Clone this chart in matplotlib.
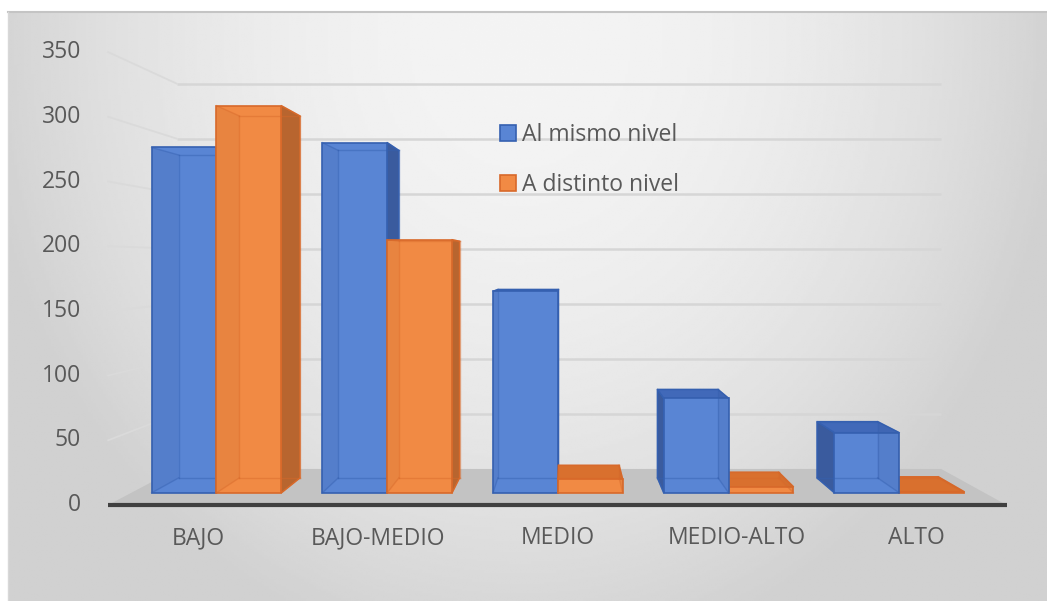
import numpy as np
import matplotlib
matplotlib.use("Agg")
import matplotlib.pyplot as plt
from matplotlib.patches import Polygon, Patch

# ---------------- data ----------------
categories = ["BAJO", "BAJO-MEDIO", "MEDIO", "MEDIO-ALTO", "ALTO"]
al_mismo_nivel = [281, 285, 164, 77, 49]
a_distinto_nivel = [315, 206, 11, 5, 1]
series_labels = ["Al mismo nivel", "A distinto nivel"]
y_ticks = [0, 50, 100, 150, 200, 250, 300, 350]

# ---------------- style ----------------
plt.rcParams["font.family"] = ["Open Sans", "DejaVu Sans"]
TEXT_COLOR = "#595959"
FS = 16.5

BLUE = dict(front="#5985d4", edge="#3560b0", side="#3a5b9e", top="#4169b9")
ORANGE = dict(front="#f18a44", edge="#d8692a", side="#b8652f", top="#d9702e")

W, H = 1047, 601
fig = plt.figure(figsize=(W / 100, H / 100), dpi=100)
fig.patch.set_facecolor("white")
ax = fig.add_axes([0, 0, 1, 1])
ax.set_axis_off()

# front-plane layout (pixel anchors for the axis frame)
X0_PX, CAT_PX = 198.0, 179.7
Y0_PX, VAL_PX = 505.0, 1.294


def px2x(px):
    return (px - X0_PX) / CAT_PX


def py2v(py):
    return (Y0_PX - py) / VAL_PX


# perspective: vanishing point and depth scales
VX, VV = px2x(567), py2v(263)
S_FLOOR_FRONT, S_FLOOR_BACK = 1.0, 0.851
S_BAR_FRONT, S_BAR_BACK = 0.950, 0.888
BAR_W = 0.38


def proj(x, v, s):
    return (VX + (x - VX) * s, VV + (v - VV) * s)


# ---------------- background ----------------
gx0, gx1, gy0, gy1 = 8, W, 12, H
xs = np.linspace(gx0, gx1, 420)
ys = np.linspace(gy0, gy1, 260)
XX, YY = np.meshgrid(xs, ys)
r2 = ((XX - 520) / 520) ** 2 + ((YY - 40) / 600) ** 2
g = np.clip(0.955 - 0.125 * r2, 0.82, 1.0)
ax.imshow(g, extent=[px2x(gx0), px2x(gx1), py2v(gy1), py2v(gy0)],
          cmap="gray", vmin=0, vmax=1, aspect="auto", zorder=0,
          interpolation="bilinear")
ax.plot([px2x(gx0), px2x(gx1)], [py2v(gy0), py2v(gy0)], color="#c4c4c4",
        lw=1.5, zorder=1)
ax.plot([px2x(gx0), px2x(gx0)], [py2v(gy0), py2v(gy1)], color="#d8d8d8",
        lw=1.0, zorder=1)

x_left, x_right = -0.5, len(categories) - 0.5

# floor
floor = [proj(x_left, 0, S_FLOOR_FRONT), proj(x_right, 0, S_FLOOR_FRONT),
         proj(x_right, 0, S_FLOOR_BACK), proj(x_left, 0, S_FLOOR_BACK)]
ax.add_patch(Polygon(floor, closed=True, fc="#c3c3c3", ec="none", zorder=2))

# gridlines on back wall and side wall
for v in y_ticks[1:]:
    p0 = proj(x_left, v, S_FLOOR_BACK)
    p1 = proj(x_right, v, S_FLOOR_BACK)
    ax.plot([p0[0], p1[0]], [p0[1], p1[1]], color="#d6d6d6", lw=1.8,
            zorder=2, solid_capstyle="butt")
    q0 = proj(x_left, v, S_FLOOR_FRONT)
    ax.plot([q0[0], p0[0]], [q0[1], p0[1]], color="#dadada", lw=1.3, zorder=2)

# axis line (front edge of floor)
a0 = proj(x_left, 0, S_FLOOR_FRONT)
a1 = proj(x_right, 0, S_FLOOR_FRONT)
ax.plot([a0[0], a1[0]], [a0[1], a1[1]], color="#404040", lw=3,
        zorder=3, solid_capstyle="butt")


# ---------------- bars ----------------
def draw_bar(x0, x1, h, c, z):
    f = lambda x, v: proj(x, v, S_BAR_FRONT)
    b = lambda x, v: proj(x, v, S_BAR_BACK)
    left = [f(x0, 0), b(x0, 0), b(x0, h), f(x0, h)]
    right = [f(x1, 0), b(x1, 0), b(x1, h), f(x1, h)]
    top = [f(x0, h), f(x1, h), b(x1, h), b(x0, h)]
    front = [f(x0, 0), f(x1, 0), f(x1, h), f(x0, h)]
    hidden = []
    if x1 < VX:
        ax.add_patch(Polygon(right, fc=c["side"], ec=c["edge"], lw=1,
                             zorder=z))
        hidden.append(left)
    elif x0 > VX:
        ax.add_patch(Polygon(left, fc=c["side"], ec=c["edge"], lw=1,
                             zorder=z))
        hidden.append(right)
    else:
        hidden += [left, right]
    if h < VV:
        ax.add_patch(Polygon(top, fc=c["top"], ec=c["edge"], lw=1, zorder=z))
    ax.add_patch(Polygon(front, fc=c["front"], ec=c["edge"], lw=1.2,
                         zorder=z + 0.1))
    for hp in hidden:
        ax.add_patch(Polygon(hp, fc=c["side"], ec="none", alpha=0.15,
                             zorder=z + 0.2))
    edges = [(b(x0, 0), b(x1, 0)), (b(x0, 0), b(x0, h)), (b(x1, 0), b(x1, h)),
             (b(x0, h), b(x1, h)), (f(x0, 0), b(x0, 0)), (f(x1, 0), b(x1, 0)),
             (f(x0, h), b(x0, h)), (f(x1, h), b(x1, h))]
    for p, q in edges:
        ax.plot([p[0], q[0]], [p[1], q[1]], color=c["edge"], lw=1,
                alpha=0.45, zorder=z + 0.3)


bars = []
for i in range(len(categories)):
    bars.append((i - BAR_W, i, al_mismo_nivel[i], BLUE))
    bars.append((i, i + BAR_W, a_distinto_nivel[i], ORANGE))
bars.sort(key=lambda t: -abs((t[0] + t[1]) / 2 - VX))
for k, (x0, x1, h, c) in enumerate(bars):
    draw_bar(x0, x1, h, c, 5 + k)

# ---------------- labels ----------------
for v in y_ticks:
    ax.text(px2x(81), v, str(v), ha="right", va="center", fontsize=FS,
            color=TEXT_COLOR, zorder=30)
for i, cat in enumerate(categories):
    ax.text(i, py2v(538), cat, ha="center", va="center", fontsize=FS,
            color=TEXT_COLOR, zorder=30)

handles = [Patch(facecolor=BLUE["front"], edgecolor=BLUE["edge"], lw=1.2),
           Patch(facecolor=ORANGE["front"], edgecolor=ORANGE["edge"], lw=1.2)]
leg = ax.legend(handles, series_labels, loc="upper left",
                bbox_to_anchor=(500 / W, 1 - 123 / H),
                bbox_transform=fig.transFigure, frameon=False, fontsize=FS,
                handlelength=0.68, handleheight=0.68, handletextpad=0.3,
                labelspacing=1.12, borderpad=0, borderaxespad=0)
for t in leg.get_texts():
    t.set_color(TEXT_COLOR)

ax.set_xlim(px2x(0), px2x(W))
ax.set_ylim(py2v(H), py2v(0))

fig.savefig("out.png", dpi=100, facecolor="white")
